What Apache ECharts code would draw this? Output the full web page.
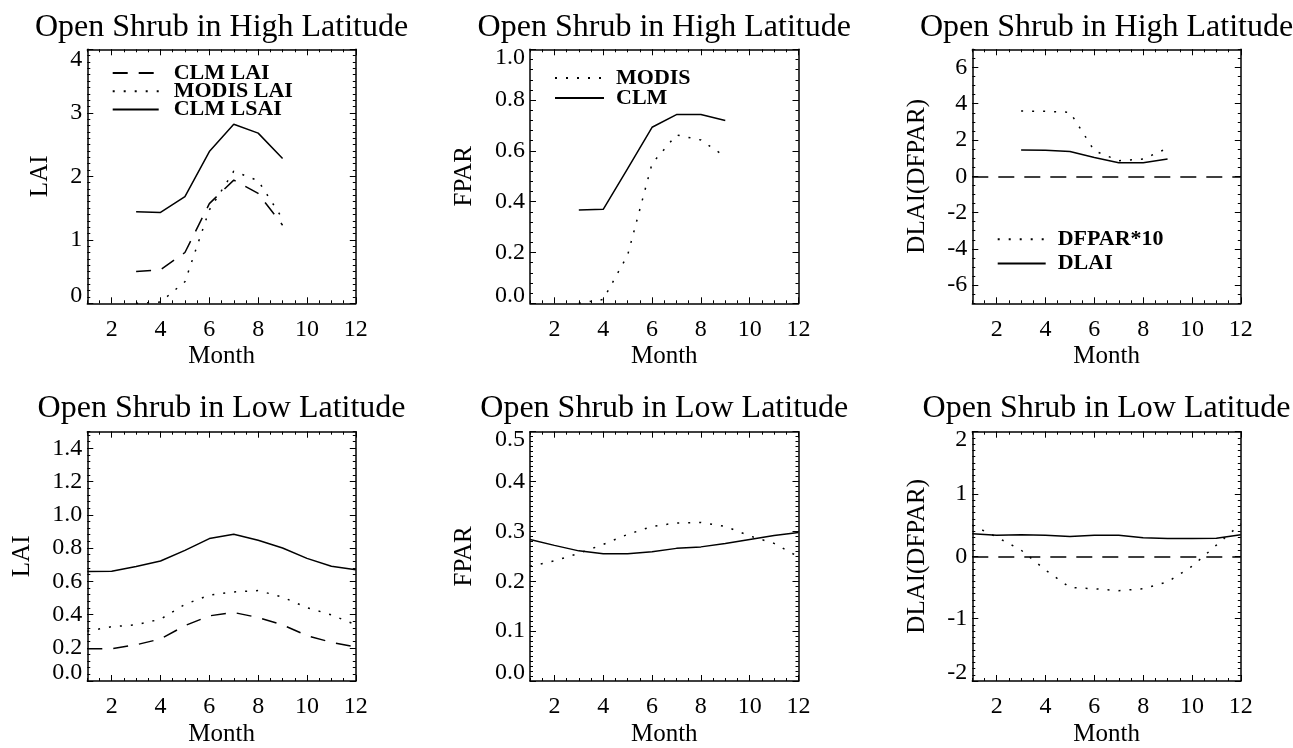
<!DOCTYPE html>
<html><head><meta charset="utf-8">
<script src="https://cdn.jsdelivr.net/npm/echarts@6/dist/echarts.min.js"></script>
<style>html,body{margin:0;padding:0;background:#fff}#c{width:1293px;height:748px}</style>
</head><body><div id="c"></div>
<script>
// ---------------- data ----------------
const months = [1,2,3,4,5,6,7,8,9,10,11,12];
const hiMonths = [3,4,5,6,7,8,9];
const monthTicks = [2,4,6,8,10,12];

// High latitude
const hiClmLai   = [0.50, 0.53, 0.80, 1.57, 1.94, 1.73, 1.23];
const hiModisLai = [0.00, 0.02, 0.34, 1.47, 2.08, 1.93, 1.33];
const hiClmLsai  = [1.44, 1.43, 1.68, 2.39, 2.82, 2.68, 2.28];
const hiModisFpar = [0.00, 0.015, 0.19, 0.55, 0.663, 0.643, 0.577];
const hiClmFpar   = [0.367, 0.37, 0.53, 0.693, 0.743, 0.743, 0.72];
const hiDfpar10 = [3.60, 3.58, 3.53, 1.41, 0.86, 0.95, 1.55];
const hiDlai    = [1.45, 1.43, 1.37, 1.04, 0.75, 0.75, 0.95];

// Low latitude
const loClmLai   = [0.194, 0.194, 0.218, 0.253, 0.333, 0.392, 0.412, 0.382, 0.338, 0.273, 0.233, 0.204];
const loModisLai = [0.300, 0.327, 0.338, 0.372, 0.461, 0.517, 0.536, 0.544, 0.505, 0.441, 0.398, 0.338];
const loClmLsai  = [0.659, 0.660, 0.689, 0.722, 0.786, 0.857, 0.883, 0.847, 0.800, 0.738, 0.690, 0.669];
const loModisFpar = [0.230, 0.241, 0.256, 0.274, 0.294, 0.310, 0.317, 0.318, 0.310, 0.291, 0.276, 0.249];
const loClmFpar   = [0.284, 0.272, 0.261, 0.255, 0.255, 0.259, 0.266, 0.269, 0.276, 0.284, 0.292, 0.298];
const loDfpar10 = [0.50, 0.31, 0.10, -0.22, -0.50, -0.52, -0.55, -0.52, -0.41, -0.16, 0.18, 0.52];
const loDlai    = [0.364, 0.338, 0.348, 0.338, 0.317, 0.338, 0.338, 0.300, 0.285, 0.285, 0.290, 0.348];

// tick labels
const yTicksHiLai  = [0,1,2,3,4];
const yTicksHiFpar = [0,0.2,0.4,0.6,0.8,1.0];
const yTicksHiD    = [-6,-4,-2,0,2,4,6];
const yTicksLoLai  = [0,0.2,0.4,0.6,0.8,1.0,1.2,1.4];
const yTicksLoFpar = [0,0.1,0.2,0.3,0.4,0.5];
const yTicksLoD    = [-2,-1,0,1,2];

// ---------------- layout / styles ----------------
const FONT = 'Liberation Serif';
const BLACK = '#000';
const DASH = [15, 11];
const DOT = [2, 9];
const colLeft = [87.3, 530, 972.3];
const plotW = 268.5;
const rowTop = [49.3, 431.7];
const rowH = [254, 252.6];

const panels = [
  {title:'Open Shrub in High Latitude', yName:'LAI', yMin:0, yMax:4, ticks:yTicksHiLai, minor:0.1, digits:0, col:0, row:0, nameGap:34, hiPad:20,
   series:[{name:'CLM LAI', x:hiMonths, y:hiClmLai, t:'dash'},{name:'MODIS LAI', x:hiMonths, y:hiModisLai, t:'dot'},{name:'CLM LSAI', x:hiMonths, y:hiClmLsai, t:'solid'}]},
  {title:'Open Shrub in High Latitude', yName:'FPAR', yMin:0, yMax:1, ticks:yTicksHiFpar, minor:0.04, digits:1, col:1, row:0, nameGap:53, hiPad:16,
   series:[{name:'MODIS', x:hiMonths, y:hiModisFpar, t:'dot'},{name:'CLM', x:hiMonths, y:hiClmFpar, t:'solid'}]},
  {title:'Open Shrub in High Latitude', yName:'DLAI(DFPAR)', yMin:-7, yMax:7, ticks:yTicksHiD, minor:0.5, digits:0, col:2, row:0, nameGap:42, hiPad:16, zero:true,
   series:[{name:'DFPAR*10', x:hiMonths, y:hiDfpar10, t:'dot'},{name:'DLAI', x:hiMonths, y:hiDlai, t:'solid'}]},
  {title:'Open Shrub in Low Latitude', yName:'LAI', yMin:0, yMax:1.5, ticks:yTicksLoLai, minor:0.04, digits:1, col:0, row:1, nameGap:52, hiPad:16,
   series:[{name:'CLM LAI ', x:months, y:loClmLai, t:'dash'},{name:'MODIS LAI ', x:months, y:loModisLai, t:'dot'},{name:'CLM LSAI ', x:months, y:loClmLsai, t:'solid'}]},
  {title:'Open Shrub in Low Latitude', yName:'FPAR', yMin:0, yMax:0.5, ticks:yTicksLoFpar, minor:0.01, digits:1, col:1, row:1, nameGap:53, hiPad:16,
   series:[{name:'MODIS ', x:months, y:loModisFpar, t:'dot'},{name:'CLM ', x:months, y:loClmFpar, t:'solid'}]},
  {title:'Open Shrub in Low Latitude', yName:'DLAI(DFPAR)', yMin:-2, yMax:2, ticks:yTicksLoD, minor:0.1, digits:0, col:2, row:1, nameGap:42, hiPad:16, zero:true,
   series:[{name:'DFPAR*10 ', x:months, y:loDfpar10, t:'dot'},{name:'DLAI ', x:months, y:loDlai, t:'solid'}]}
];

const labelStyle = {color:BLACK, fontFamily:FONT, fontSize:24};
const nameStyle = {color:BLACK, fontFamily:FONT, fontSize:25};

const grids = [], xAxes = [], yAxes = [], series = [], titles = [];

panels.forEach((p, k) => {
  const left = colLeft[p.col], top = rowTop[p.row], h = rowH[p.row];
  grids.push({left:left, top:top, width:plotW, height:h, show:false});
  titles.push({text:p.title, left:left + plotW/2, top: p.row === 0 ? 12 : 393, textAlign:'center', padding:0,
    textStyle:{color:BLACK, fontFamily:FONT, fontSize:32, fontWeight:'normal'}});

  const lineOn = {show:true, onZero:false, lineStyle:{color:BLACK, width:1.5}};
  const lineOff = {show:false, onZero:false};
  ['bottom','top'].forEach(pos => {
    xAxes.push({gridIndex:k, type:'value', position:pos, min:1, max:12,
      axisLine:lineOn,
      axisTick:{show:true, inside:true, length:6, customValues:monthTicks, lineStyle:{color:BLACK, width:1}},
      axisLabel: pos === 'bottom' ? Object.assign({show:true, customValues:monthTicks, margin:14}, labelStyle) : {show:false},
      splitLine:{show:false},
      name: pos === 'bottom' ? 'Month' : '', nameLocation:'middle', nameGap:41, nameTextStyle:nameStyle});
    xAxes.push({gridIndex:k, type:'value', position:pos, min:1, max:12, interval:0.5,
      axisLine:lineOff, axisTick:{show:true, inside:true, length:3, lineStyle:{color:BLACK, width:1}},
      axisLabel:{show:false}, splitLine:{show:false}});
  });
  const fmt = v => {
    const s = v.toFixed(p.digits);
    if (Math.abs(v - p.yMin) < 1e-9) return '{lo|' + s + '}';
    if (Math.abs(v - p.yMax) < 1e-9) return '{hi|' + s + '}';
    return s;
  };
  ['left','right'].forEach(pos => {
    yAxes.push({gridIndex:k, type:'value', position:pos, min:p.yMin, max:p.yMax,
      axisLine:lineOn,
      axisTick:{show:true, inside:true, length:6, customValues:p.ticks, lineStyle:{color:BLACK, width:1}},
      axisLabel: pos === 'left' ? Object.assign({show:true, customValues:p.ticks, margin:5, formatter:fmt,
        rich:{lo:Object.assign({padding:[0,0,16,0]}, labelStyle), hi:Object.assign({padding:[p.hiPad,0,0,0]}, labelStyle)}}, labelStyle) : {show:false},
      splitLine:{show:false},
      name: pos === 'left' ? p.yName : '', nameLocation:'middle', nameGap:p.nameGap, nameTextStyle:nameStyle});
    yAxes.push({gridIndex:k, type:'value', position:pos, min:p.yMin, max:p.yMax, interval:p.minor,
      axisLine:lineOff, axisTick:{show:true, inside:true, length:3, lineStyle:{color:BLACK, width:1}},
      axisLabel:{show:false}, splitLine:{show:false}});
  });

  p.series.forEach((s, j) => {
    const ser = {name:s.name, type:'line', xAxisIndex:4*k, yAxisIndex:4*k, symbol:'none', silent:true,
      data:s.x.map((m, i) => [m, s.y[i]]),
      lineStyle:{color:BLACK, width:1.5, type: s.t === 'dash' ? DASH : (s.t === 'dot' ? DOT : 'solid')},
      itemStyle:{color:BLACK}};
    if (p.zero && j === p.series.length - 1) {
      ser.markLine = {silent:true, symbol:['none','none'], label:{show:false},
        lineStyle:{color:BLACK, width:1.5, type:[16,10]}, data:[{yAxis:0}]};
    }
    series.push(ser);
  });
});

const legendText = (lh, pad) => ({color:BLACK, fontFamily:FONT, fontSize:22, fontWeight:'bold', lineHeight:lh, padding:[0,0,0,pad]});
const noSymbol = {color:'rgba(0,0,0,0)', borderColor:'rgba(0,0,0,0)', borderWidth:0, opacity:0};
const legends = [
  {data:['CLM LAI','MODIS LAI','CLM LSAI'], left:111.7, top:62, orient:'vertical', itemWidth:46, itemHeight:14, itemGap:-3.7, padding:0,
   textStyle:legendText(22, 10), itemStyle:noSymbol, selectedMode:false},
  {data:['MODIS','CLM'], left:554, top:67, orient:'vertical', itemWidth:49, itemHeight:14, itemGap:-2, padding:0,
   textStyle:legendText(22, 7), itemStyle:noSymbol, selectedMode:false},
  {data:['DFPAR*10','DLAI'], left:996.7, top:227, orient:'vertical', itemWidth:48, itemHeight:14, itemGap:0, padding:0,
   textStyle:legendText(24.4, 7), itemStyle:noSymbol, selectedMode:false}
];

const chart = echarts.init(document.getElementById('c'), null, {renderer:'canvas'});
chart.setOption({
  animation:false,
  backgroundColor:'#fff',
  title:titles,
  legend:legends,
  grid:grids,
  xAxis:xAxes,
  yAxis:yAxes,
  series:series
});
</script>
</body></html>
